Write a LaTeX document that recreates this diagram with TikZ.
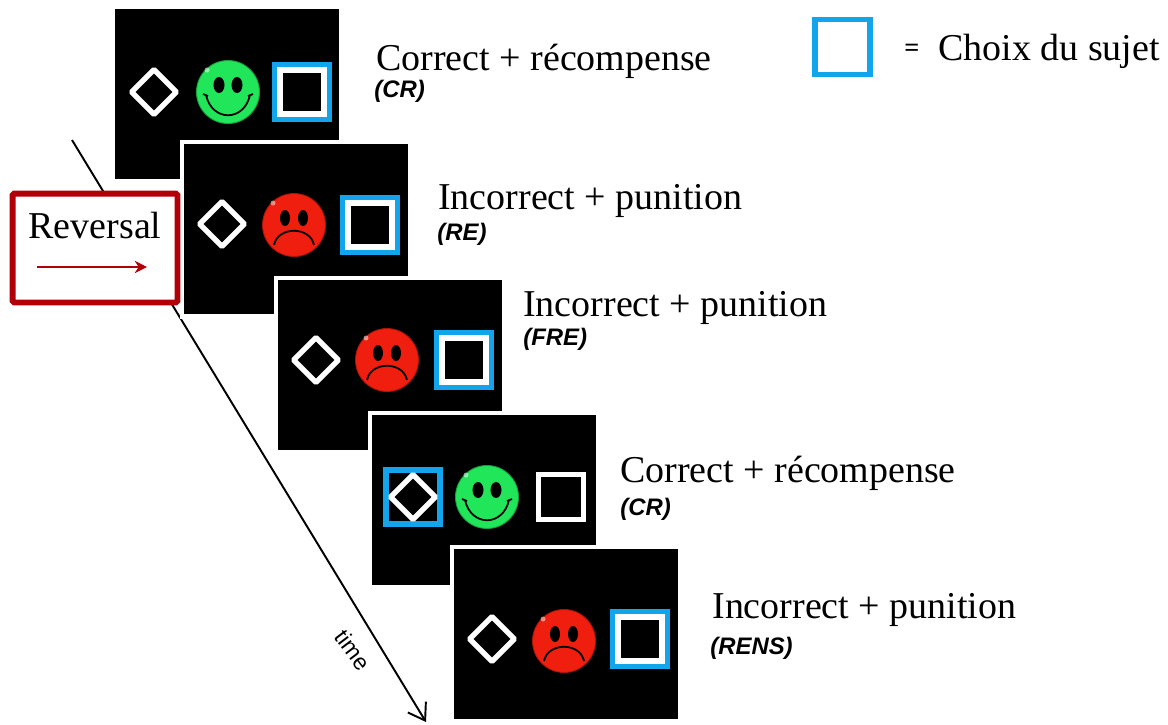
\documentclass[tikz,border=0pt]{standalone}
\usepackage{fontspec}
\setmainfont{Liberation Serif}
\setsansfont{Liberation Sans}
\usetikzlibrary{arrows.meta, shapes.geometric, positioning}
\definecolor{choixblue}{HTML}{12A5EC}
\definecolor{revred}{HTML}{B00008}
\definecolor{facegreen}{HTML}{22E65A}
\definecolor{facered}{HTML}{F01E0E}
\tikzset{>=stealth,
    screen/.style={anchor=north west, fill=black, inner sep=0pt, minimum width=4.48cm, minimum height=3.4cm,
        preaction={draw=white, line width=5.5pt}},
    stimdiam/.style={diamond, draw=white, line width=3pt, inner sep=0pt, minimum width=.94cm, minimum height=.94cm, rounded corners=.5pt},
    stimsquare/.style={rectangle, draw=white, line width=3pt, inner sep=0pt, minimum size=.9cm},
    choice/.style={rectangle, draw=choixblue, line width=2.9pt, inner sep=0pt, minimum size=1.1cm},
    facedisc/.style={circle, inner sep=0pt, minimum size=1.26cm, draw=#1!70!black, fill=#1, line width=.5pt},
    result/.style={anchor=base west, font=\fontsize{21.6}{26}\selectfont, inner sep=0pt},
    code/.style={anchor=base west, font=\sffamily\bfseries\itshape\fontsize{13.6}{16}\selectfont, inner sep=0pt},
    happyface/.pic={
        \fill (-9,-7) ellipse (5.5 and 8) (9,-7) ellipse (5.5 and 8);
        \draw[line width=1pt] (-22,3) .. controls (-16,30) and (16,30) .. (22,3);
        \draw[line width=1pt] (-25,2)--(-20,4) (25,2)--(20,4);
        \fill[white, opacity=.5] (-21,-22) circle (2.5);
    },
    sadface/.pic={
        \fill (-9,-7) ellipse (5 and 8) (9,-7) ellipse (5 and 8);
        \draw[line width=1pt] (-20,20) .. controls (-16,1) and (16,1) .. (20,20);
        \fill[white, opacity=.5] (-21,-22) circle (2.5);
    }
}
\begin{document}
\begin{tikzpicture}[x=.02cm, y=-.02cm]
    \useasboundingbox (0,0) rectangle (1168,724);
    \coordinate (timeA) at (72,140);
    \coordinate (timeB) at (426,722);
    \draw[line width=1.1pt, -{Straight Barb[length=9pt, width=12pt]}] (timeA)--(timeB);
    \node[rotate=-53, font=\sffamily\fontsize{13}{15}\selectfont] (timelabel) at (353,650) {time};

    % screens
    \foreach \n/\x/\y in {1/115/9, 2/184/144, 3/278/280, 4/372/415, 5/454/549}
    {
        \node[screen] (screen\n) at (\x,\y) {};
    }

    \foreach \n/\x/\y in {1/154/92, 2/222/224, 3/316/360, 5/492/639}
    {
        \node[stimdiam] (diam\n) at (\x,\y) {};
    }
    \foreach \n/\x/\y in {1/302/92, 2/370/225, 3/464/360, 5/640/639}
    {
        \node[choice] (choice\n) at (\x,\y) {};
        \node[stimsquare, minimum size=.88cm] (square\n) at (\x,\y) {};
    }
    \node[choice, minimum size=1.08cm] (choice4) at (413,497) {};
    \node[stimdiam] (diam4) at (413,497) {};
    \node[stimsquare] (square4) at (561,497) {};

    \foreach \n/\x/\y in {1/228/92, 4/487/497}
    {
        \node[facedisc=facegreen] (face\n) at (\x,\y) {};
        \pic at (face\n) {happyface};
    }
    \foreach \n/\x/\y in {2/294/225, 3/387/360, 5/564/641}
    {
        \node[facedisc=facered] (face\n) at (\x,\y) {};
        \pic at (face\n) {sadface};
    }

    % labels
    \foreach \n/\x/\y/\txt/\xc/\yc/\cod in {1/376/70/Correct + récompense/374/97/(CR),
        2/438/209/Incorrect + punition/437/240/(RE),
        3/523/316/Incorrect + punition/523/345/(FRE),
        4/620/482/Correct + récompense/620/515/(CR),
        5/712/618/Incorrect + punition/710/654/(RENS)}
    {
        \node[result] (result\n) at (\x,\y) {\txt};
        \node[code] (code\n) at (\xc,\yc) {\cod};
    }

    % reversal box
    \node[draw=revred, fill=white, line width=3.4pt, rounded corners=1pt, inner sep=0pt, minimum width=3.3cm, minimum height=2.18cm] (reversal) at (95,248) {};
    \node[font=\fontsize{21.6}{26}\selectfont, inner sep=0pt] (revlabel) at (95,226) {Reversal};
    \coordinate (revA) at (37,267);
    \coordinate (revB) at (147,267);
    \draw[revred, line width=1.1pt, -{Stealth[length=7pt, width=7pt]}] (revA)--(revB);

    % legend
    \node[choice, minimum size=1.1cm, line width=3.3pt] (legend) at (842.5,47) {};
    \node[font=\bfseries\fontsize{15}{18}\selectfont, anchor=base west, inner sep=0pt] (legendeq) at (904,56) {=};
    \node[font=\fontsize{21.6}{26}\selectfont, anchor=base west, inner sep=0pt] (legendtxt) at (938,60) {Choix du sujet};
\end{tikzpicture}
\end{document}
